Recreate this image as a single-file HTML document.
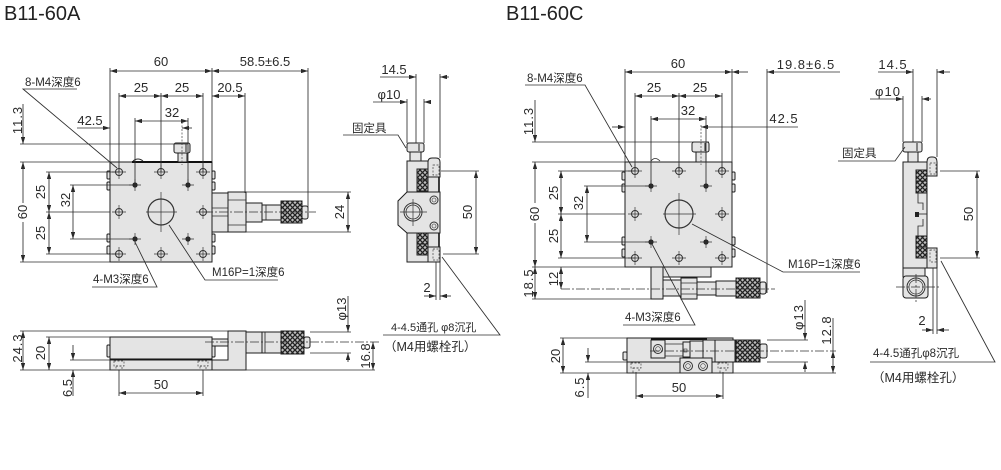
<!DOCTYPE html>
<html><head><meta charset="utf-8"><style>
html,body{margin:0;padding:0;background:#fff;}
svg{display:block;}
.d{stroke:#2e2e2e;stroke-width:.85;fill:none;}
.o{stroke:#1e1e1e;stroke-width:1;fill:#e4e4e4;}
.k{stroke:#222;stroke-width:1;fill:url(#kn);}
.cl{stroke:#333;stroke-width:.75;fill:none;stroke-dasharray:9 2 2 2;}
.dash{stroke:#444;stroke-width:.7;fill:none;stroke-dasharray:2 1.5;}
text{font-family:"Liberation Sans","Noto Sans CJK SC",sans-serif;fill:#2a2a2a;font-size:13px;}
.s{font-size:11.5px;}
.r{letter-spacing:1px;}
.ttl{font-size:20px;fill:#222;}
</style></head><body>
<svg width="1001" height="470" viewBox="0 0 1001 470" xmlns="http://www.w3.org/2000/svg">
<defs>
<marker id="ar" viewBox="0 0 7 4.4" refX="7" refY="2.2" markerWidth="7" markerHeight="4.4" markerUnits="userSpaceOnUse" orient="auto-start-reverse"><path d="M0,0 L7,2.2 L0,4.4z" fill="#2a2a2a"/></marker>
<pattern id="kn" width="5" height="5" patternUnits="userSpaceOnUse"><rect width="5" height="5" fill="#bdbdbd"/><path d="M0,0L5,5M5,0L0,5" stroke="#222" stroke-width="1.3"/></pattern>
<g id="h4"><circle r="3.5" fill="none" stroke="#333" stroke-width="1"/><path d="M-7,0H7M0,-7V7" stroke="#333" stroke-width=".7"/></g>
<g id="h3"><circle r="2.6" fill="#222"/><path d="M-6,0H6M0,-6V6" stroke="#333" stroke-width=".7"/></g>
</defs>

<!-- ================= LEFT: B11-60A ================= -->
<text class="ttl" x="4" y="20">B11-60A</text>

<rect class="o" x="110" y="162" width="102" height="100"/>
<line x1="132" y1="162" x2="212" y2="162" stroke="#111" stroke-width="2"/>
<path d="M133,161 q5,-4 10,0" class="d"/>
<rect class="o" x="107" y="171" width="3" height="8" rx="1"/>
<rect class="o" x="107" y="182" width="3" height="8" rx="1"/>
<rect class="o" x="107" y="234" width="3" height="8" rx="1"/>
<rect class="o" x="107" y="246" width="3" height="8" rx="1"/>
<rect class="o" x="212" y="171" width="3" height="8" rx="1"/>
<rect class="o" x="212" y="182" width="3" height="8" rx="1"/>
<rect class="o" x="212" y="234" width="3" height="8" rx="1"/>
<rect class="o" x="212" y="246" width="3" height="8" rx="1"/>
<use href="#h4" x="119" y="172"/><use href="#h4" x="161" y="172"/><use href="#h4" x="203" y="172"/>
<use href="#h4" x="119" y="212"/><use href="#h4" x="203" y="212"/>
<use href="#h4" x="119" y="254"/><use href="#h4" x="161" y="254"/><use href="#h4" x="203" y="254"/>
<use href="#h3" x="135" y="185"/><use href="#h3" x="188" y="185"/><use href="#h3" x="135" y="239"/><use href="#h3" x="188" y="239"/>
<circle cx="161" cy="212" r="13" fill="none" stroke="#333" stroke-width="1.2"/>
<path d="M146,212H177M161,192V232" stroke="#333" stroke-width=".7"/>
<rect class="o" x="174" y="143" width="16" height="10" rx="2"/>
<rect class="o" x="178" y="153" width="9" height="9"/>
<line x1="186" y1="144" x2="186" y2="152" stroke="#222"/>
<line class="dash" x1="182" y1="122" x2="182" y2="165"/>
<rect class="o" x="212" y="193" width="16" height="39"/>
<path d="M212,208H228M212,216H228" class="d"/>
<rect class="o" x="228" y="192" width="18" height="40"/>
<path d="M228,200H246M228,225H246" class="d"/>
<rect class="o" x="246" y="203" width="16" height="19"/>
<rect class="o" x="262" y="205" width="19" height="15"/>
<line x1="266" y1="205" x2="266" y2="220" class="d"/>
<rect class="k" x="281" y="201" width="21" height="22"/>
<rect class="o" x="302" y="206" width="6" height="13" rx="2"/>
<line class="cl" x1="204" y1="212" x2="316" y2="212"/>

<path class="d" d="M110,68V162M212,68V162M308,68V212M119,93V172M161,93V172M203,93V172M245,93V193M135,118V185M188,118V185"/>
<line class="d" x1="110" y1="71" x2="212" y2="71" marker-start="url(#ar)" marker-end="url(#ar)"/>
<text x="161" y="66" text-anchor="middle">60</text>
<line class="d" x1="212" y1="71" x2="308" y2="71" marker-start="url(#ar)" marker-end="url(#ar)"/>
<text x="265" y="66" text-anchor="middle">58.5±6.5</text>
<line class="d" x1="119" y1="96" x2="161" y2="96" marker-start="url(#ar)" marker-end="url(#ar)"/>
<line class="d" x1="161" y1="96" x2="203" y2="96" marker-start="url(#ar)" marker-end="url(#ar)"/>
<text x="141" y="92" text-anchor="middle">25</text>
<text x="182" y="92" text-anchor="middle">25</text>
<line class="d" x1="212" y1="96" x2="245" y2="96" marker-start="url(#ar)" marker-end="url(#ar)"/>
<text x="230" y="92" text-anchor="middle">20.5</text>
<line class="d" x1="135" y1="121" x2="188" y2="121" marker-start="url(#ar)" marker-end="url(#ar)"/>
<text x="172" y="117" text-anchor="middle">32</text>
<line class="d" x1="77" y1="128" x2="110" y2="128" marker-end="url(#ar)"/>
<line class="d" x1="192" y1="128" x2="182" y2="128" marker-end="url(#ar)"/>
<text x="90" y="125" text-anchor="middle">42.5</text>
<path class="d" d="M20,144H188M20,162H110M20,262H110M46,172H119M46,212H110M46,254H119M70,185H135M70,239H135"/>
<line class="d" x1="23" y1="104" x2="23" y2="144" marker-end="url(#ar)"/>
<line class="d" x1="23" y1="162" x2="23" y2="262" marker-start="url(#ar)" marker-end="url(#ar)"/>
<text transform="translate(22,120) rotate(-90)" text-anchor="middle" class="r">11.3</text>
<rect x="13" y="203" width="14" height="19" fill="#fff"/>
<text transform="translate(27,212) rotate(-90)" text-anchor="middle">60</text>
<line class="d" x1="49" y1="172" x2="49" y2="212" marker-start="url(#ar)" marker-end="url(#ar)"/>
<line class="d" x1="49" y1="212" x2="49" y2="254" marker-start="url(#ar)" marker-end="url(#ar)"/>
<text transform="translate(45,192) rotate(-90)" text-anchor="middle">25</text>
<text transform="translate(45,233) rotate(-90)" text-anchor="middle">25</text>
<line class="d" x1="73" y1="185" x2="73" y2="239" marker-start="url(#ar)" marker-end="url(#ar)"/>
<text transform="translate(70,200) rotate(-90)" text-anchor="middle">32</text>
<path class="d" d="M246,192H351M246,232H351"/>
<line class="d" x1="348" y1="192" x2="348" y2="232" marker-start="url(#ar)" marker-end="url(#ar)"/>
<text transform="translate(344,212) rotate(-90)" text-anchor="middle">24</text>
<text class="s" x="25" y="86">8-M4深度6</text>
<path class="d" d="M77,89H23L117,168"/>
<text class="s" x="93" y="283">4-M3深度6</text>
<path class="d" d="M92,287H157L135,242"/>
<text class="s" x="212" y="276">M16P=1深度6</text>
<path class="d" d="M278,280H205L169,225"/>

<rect class="o" x="407" y="161" width="32" height="101"/>
<line x1="439" y1="161" x2="439" y2="262" stroke="#111" stroke-width="1.6"/>
<rect class="o" x="407" y="143" width="17" height="9" rx="2"/>
<line x1="419" y1="144" x2="419" y2="151" stroke="#222"/>
<rect class="o" x="410" y="152" width="11" height="9"/>
<polygon class="o" points="407,192 440,192 440,233 407,233 398,225 398,201"/>
<circle cx="413" cy="212" r="9" fill="none" stroke="#333" stroke-width="1"/>
<circle cx="413" cy="212" r="7" fill="none" stroke="#333" stroke-width=".8"/>
<path d="M400,212H427M413,199V226" stroke="#333" stroke-width=".7"/>
<circle cx="434" cy="200" r="4" fill="none" stroke="#333"/><circle cx="434" cy="200" r="2" fill="none" stroke="#333" stroke-width=".6"/>
<circle cx="434" cy="226" r="4" fill="none" stroke="#333"/><circle cx="434" cy="226" r="2" fill="none" stroke="#333" stroke-width=".6"/>
<rect class="k" x="417" y="169" width="11" height="11"/><rect class="k" x="417" y="180" width="11" height="11"/>
<rect class="k" x="417" y="233" width="11" height="11"/><rect class="k" x="417" y="244" width="11" height="11"/>
<path class="o" d="M428,177V162Q428,158 432,158H436Q440,158 440,162V177Z"/>
<rect class="dash" x="433" y="165" width="6" height="10"/>
<rect class="o" x="428" y="247" width="12" height="15"/>
<rect class="dash" x="433" y="249" width="6" height="11"/>
<path class="d" d="M416,74V143M440,74V158M407,99V143M424,99V143"/>
<line class="d" x1="380" y1="77" x2="416" y2="77" marker-end="url(#ar)"/>
<line class="d" x1="449" y1="77" x2="440" y2="77" marker-end="url(#ar)"/>
<text x="394" y="74" text-anchor="middle">14.5</text>
<line class="d" x1="373" y1="102" x2="407" y2="102" marker-end="url(#ar)"/>
<line class="d" x1="431" y1="102" x2="424" y2="102" marker-end="url(#ar)"/>
<text x="389" y="99" text-anchor="middle">φ10</text>
<text class="s" x="352" y="132">固定具</text>
<path class="d" d="M343,135H398L406,148"/>
<path class="d" d="M441,171H479M443,254H479"/>
<line class="d" x1="476" y1="171" x2="476" y2="254" marker-start="url(#ar)" marker-end="url(#ar)"/>
<text transform="translate(472,212) rotate(-90)" text-anchor="middle">50</text>
<path class="d" d="M436,262V300M440,262V300"/>
<line class="d" x1="424" y1="296" x2="436" y2="296" marker-end="url(#ar)"/>
<line class="d" x1="451" y1="296" x2="440" y2="296" marker-end="url(#ar)"/>
<text x="427" y="292" text-anchor="middle">2</text>
<text class="s" x="391" y="331" style="font-size:11px">4-4.5通孔 φ8沉孔</text>
<path class="d" d="M383,335H500L442,257"/>
<text x="384" y="351" style="font-size:12.5px">（M4用螺栓孔）</text>

<rect class="o" x="110" y="337" width="102" height="22"/>
<line x1="110" y1="359.5" x2="212" y2="359.5" stroke="#111" stroke-width="2"/>
<rect class="o" x="110" y="360" width="102" height="10"/>
<rect class="dash" x="114" y="361" width="10" height="5"/><rect class="dash" x="116" y="366" width="6" height="4"/>
<rect class="dash" x="198" y="361" width="10" height="5"/><rect class="dash" x="200" y="366" width="6" height="4"/>
<rect class="o" x="107" y="345" width="3" height="12" rx="1"/>
<rect class="o" x="212" y="345" width="3" height="12" rx="1"/>
<path class="o" d="M212,360H228V331H246V370H212Z"/>
<rect class="o" x="212" y="339" width="16" height="7"/>
<rect class="o" x="246" y="332" width="16" height="21"/>
<rect class="o" x="262" y="332" width="19" height="21"/>
<line x1="265" y1="332" x2="265" y2="353" class="d"/>
<rect class="k" x="281" y="331" width="23" height="23"/>
<rect class="o" x="304" y="337" width="6" height="11" rx="2"/>
<line class="cl" x1="205" y1="342" x2="380" y2="342"/>
<path class="d" d="M20,331H228M20,370H375M46,337H110M70,360H110M310,332H351M310,353H351M119,370V396M203,370V396"/>
<line class="d" x1="23" y1="331" x2="23" y2="370" marker-start="url(#ar)" marker-end="url(#ar)"/>
<text transform="translate(22,348) rotate(-90)" text-anchor="middle" class="r">24.3</text>
<line class="d" x1="49" y1="337" x2="49" y2="370" marker-start="url(#ar)" marker-end="url(#ar)"/>
<text transform="translate(45,353) rotate(-90)" text-anchor="middle">20</text>
<line class="d" x1="73" y1="345" x2="73" y2="360" marker-end="url(#ar)"/>
<line class="d" x1="73" y1="396" x2="73" y2="370" marker-end="url(#ar)"/>
<text transform="translate(72,388) rotate(-90)" text-anchor="middle">6.5</text>
<line class="d" x1="119" y1="393" x2="203" y2="393" marker-start="url(#ar)" marker-end="url(#ar)"/>
<text x="161" y="389" text-anchor="middle">50</text>
<line class="d" x1="348" y1="296" x2="348" y2="332" marker-end="url(#ar)"/>
<line class="d" x1="348" y1="362" x2="348" y2="353" marker-end="url(#ar)"/>
<text transform="translate(346,309) rotate(-90)" text-anchor="middle">φ13</text>
<line class="d" x1="373" y1="342" x2="373" y2="370" marker-start="url(#ar)" marker-end="url(#ar)"/>
<text transform="translate(370,356) rotate(-90)" text-anchor="middle">16.8</text>

<!-- ================= RIGHT: B11-60C ================= -->
<text class="ttl" x="506" y="20">B11-60C</text>

<rect class="o" x="625" y="162" width="107" height="105"/>
<path d="M651,161 q4,-5 9,0" class="d"/>
<rect class="o" x="622" y="172" width="3" height="8" rx="1"/>
<rect class="o" x="622" y="184" width="3" height="8" rx="1"/>
<rect class="o" x="622" y="237" width="3" height="8" rx="1"/>
<rect class="o" x="622" y="249" width="3" height="8" rx="1"/>
<rect class="o" x="732" y="172" width="3" height="8" rx="1"/>
<rect class="o" x="732" y="184" width="3" height="8" rx="1"/>
<rect class="o" x="732" y="237" width="3" height="8" rx="1"/>
<rect class="o" x="732" y="249" width="3" height="8" rx="1"/>
<use href="#h4" x="635" y="171"/><use href="#h4" x="679" y="171"/><use href="#h4" x="722" y="171"/>
<use href="#h4" x="635" y="214"/><use href="#h4" x="722" y="214"/>
<use href="#h4" x="635" y="258"/><use href="#h4" x="679" y="258"/><use href="#h4" x="722" y="258"/>
<use href="#h3" x="651" y="186"/><use href="#h3" x="706" y="186"/><use href="#h3" x="651" y="242"/><use href="#h3" x="706" y="242"/>
<circle cx="679" cy="214" r="14" fill="none" stroke="#333" stroke-width="1.2"/>
<path d="M663,214H696M679,193V235" stroke="#333" stroke-width=".7"/>
<rect class="o" x="692" y="142" width="17" height="10" rx="2"/>
<line x1="705" y1="143" x2="705" y2="151" stroke="#222"/>
<rect class="o" x="696" y="152" width="10" height="10"/>
<line class="dash" x1="701" y1="125" x2="701" y2="165"/>
<rect class="o" x="651" y="267" width="12" height="32"/>
<rect class="o" x="663" y="267" width="48" height="10"/>
<rect class="o" x="663" y="280" width="18" height="16"/>
<rect class="o" x="681" y="278" width="16" height="21"/>
<path d="M681,283H697M681,294H697" class="d"/>
<rect class="o" x="697" y="282" width="19" height="13"/>
<rect class="o" x="716" y="281" width="20" height="15"/>
<rect class="k" x="736" y="278" width="24" height="20"/>
<rect class="o" x="760" y="282" width="6" height="12" rx="2"/>
<line class="cl" x1="561" y1="289" x2="775" y2="289"/>
<path class="d" d="M625,69V162M732,69V162M767,69V293M635,93V171M679,93V171M722,93V171M651,116V186M706,116V186"/>
<line class="d" x1="625" y1="72" x2="732" y2="72" marker-start="url(#ar)" marker-end="url(#ar)"/>
<text x="678" y="68" text-anchor="middle">60</text>
<line class="d" x1="840" y1="72" x2="767" y2="72" marker-end="url(#ar)"/>
<line class="d" x1="748" y1="72" x2="732" y2="72" marker-end="url(#ar)"/>
<text x="806" y="69" text-anchor="middle" class="r">19.8±6.5</text>
<line class="d" x1="635" y1="96" x2="679" y2="96" marker-start="url(#ar)" marker-end="url(#ar)"/>
<line class="d" x1="679" y1="96" x2="722" y2="96" marker-start="url(#ar)" marker-end="url(#ar)"/>
<text x="654" y="92" text-anchor="middle">25</text>
<text x="700" y="92" text-anchor="middle">25</text>
<line class="d" x1="651" y1="119" x2="706" y2="119" marker-start="url(#ar)" marker-end="url(#ar)"/>
<text x="688" y="115" text-anchor="middle">32</text>
<line class="d" x1="612" y1="127" x2="625" y2="127" marker-end="url(#ar)"/>
<line class="d" x1="798" y1="127" x2="701" y2="127" marker-end="url(#ar)"/>
<text x="784" y="123" text-anchor="middle" class="r">42.5</text>
<path class="d" d="M532,142H709M532,162H625M532,267H625M532,299H651M558,171H635M558,214H625M558,258H635M584,186H651M584,242H651"/>
<line class="d" x1="535" y1="100" x2="535" y2="142" marker-end="url(#ar)"/>
<line class="d" x1="535" y1="162" x2="535" y2="267" marker-start="url(#ar)" marker-end="url(#ar)"/>
<line class="d" x1="535" y1="267" x2="535" y2="299" marker-start="url(#ar)" marker-end="url(#ar)"/>
<text transform="translate(533,121) rotate(-90)" text-anchor="middle" class="r">11.3</text>
<rect x="525" y="203" width="14" height="20" fill="#fff"/>
<text transform="translate(539,214) rotate(-90)" text-anchor="middle">60</text>
<text transform="translate(533,283) rotate(-90)" text-anchor="middle" class="r">18.5</text>
<line class="d" x1="561" y1="171" x2="561" y2="214" marker-start="url(#ar)" marker-end="url(#ar)"/>
<line class="d" x1="561" y1="214" x2="561" y2="258" marker-start="url(#ar)" marker-end="url(#ar)"/>
<text transform="translate(558,193) rotate(-90)" text-anchor="middle">25</text>
<text transform="translate(558,236) rotate(-90)" text-anchor="middle">25</text>
<line class="d" x1="587" y1="186" x2="587" y2="242" marker-start="url(#ar)" marker-end="url(#ar)"/>
<text transform="translate(583,203) rotate(-90)" text-anchor="middle">32</text>
<line class="d" x1="561" y1="267" x2="561" y2="289" marker-start="url(#ar)" marker-end="url(#ar)"/>
<text transform="translate(558,279) rotate(-90)" text-anchor="middle">12</text>
<text class="s" x="527" y="82">8-M4深度6</text>
<path class="d" d="M525,85H585L632,167"/>
<text class="s" x="788" y="268">M16P=1深度6</text>
<path class="d" d="M860,272H783L692,224"/>
<text class="s" x="625" y="321">4-M3深度6</text>
<path class="d" d="M623,325H695L652,244"/>

<rect class="o" x="903" y="162" width="24" height="106"/>
<rect class="o" x="903" y="142" width="19" height="10" rx="2"/>
<line x1="917" y1="143" x2="917" y2="151" stroke="#222"/>
<rect class="o" x="908" y="152" width="10" height="10"/>
<rect class="k" x="916" y="170" width="11" height="11"/><rect class="k" x="916" y="181" width="11" height="12"/>
<rect class="k" x="916" y="236" width="11" height="11"/><rect class="k" x="916" y="247" width="11" height="11"/>
<path class="d" d="M918,193V203H923V210M923,219V226H918V236"/>
<rect x="915" y="212" width="4" height="5" fill="#222"/>
<path class="d" d="M919,214H927"/>
<path class="o" d="M927,176V162Q927,157 931,157H933Q937,157 937,162V176Z"/>
<rect class="dash" x="930" y="163" width="6" height="11"/>
<rect class="o" x="927" y="248" width="10" height="20"/>
<rect class="dash" x="930" y="250" width="6" height="12"/>
<rect class="o" x="903" y="268" width="22" height="9"/>
<rect class="o" x="903" y="276" width="25" height="22" rx="3"/>
<circle cx="916" cy="287" r="9" fill="#e4e4e4" stroke="#333" stroke-width="1"/>
<circle cx="916" cy="287" r="7" fill="none" stroke="#333" stroke-width=".7"/>
<line class="cl" x1="896" y1="287" x2="941" y2="287"/>
<line class="cl" x1="916" y1="274" x2="916" y2="302"/>
<path class="d" d="M913,69V142M937,69V157M933,268V334M937,268V334M903,96V142M922,96V142M940,171H980M940,258H980"/>
<line class="d" x1="878" y1="72" x2="913" y2="72" marker-end="url(#ar)"/>
<line class="d" x1="950" y1="72" x2="937" y2="72" marker-end="url(#ar)"/>
<text x="893" y="69" text-anchor="middle" class="r">14.5</text>
<line class="d" x1="870" y1="99" x2="903" y2="99" marker-end="url(#ar)"/>
<line class="d" x1="931" y1="99" x2="922" y2="99" marker-end="url(#ar)"/>
<text x="888" y="96" text-anchor="middle" class="r">φ10</text>
<text class="s" x="842" y="157">固定具</text>
<path class="d" d="M838,161H895L905,147"/>
<line class="d" x1="977" y1="171" x2="977" y2="258" marker-start="url(#ar)" marker-end="url(#ar)"/>
<text transform="translate(973,214) rotate(-90)" text-anchor="middle">50</text>
<line class="d" x1="922" y1="330" x2="933" y2="330" marker-end="url(#ar)"/>
<line class="d" x1="949" y1="330" x2="937" y2="330" marker-end="url(#ar)"/>
<text x="922" y="325" text-anchor="middle">2</text>
<text class="s" x="873" y="357" style="font-size:11.5px">4-4.5通孔φ8沉孔</text>
<path class="d" d="M870,362H995L941,261"/>
<text x="872" y="382" style="font-size:12.5px">（M4用螺栓孔）</text>

<rect class="o" x="627" y="338" width="106" height="24"/>
<rect class="o" x="627" y="362" width="106" height="11"/>
<rect class="o" x="623" y="352" width="4" height="8" rx="1"/>
<rect class="o" x="651" y="340" width="14" height="18"/>
<circle cx="658" cy="349" r="4.5" fill="none" stroke="#333"/><circle cx="658" cy="349" r="2.3" fill="none" stroke="#333" stroke-width=".6"/>
<line x1="651" y1="339" x2="707" y2="339" stroke="#111" stroke-width="2"/>
<path class="d" d="M665,344H683M665,356H683"/>
<rect class="o" x="683" y="342" width="7" height="15"/>
<rect x="684" y="349" width="3" height="3" fill="none" stroke="#333" stroke-width=".6"/>
<rect class="o" x="690" y="341" width="13" height="17"/>
<rect class="o" x="703" y="340" width="12" height="22"/>
<rect class="o" x="715" y="340" width="20" height="22"/>
<rect class="o" x="680" y="358" width="32" height="15"/>
<circle cx="688" cy="366" r="4.5" fill="none" stroke="#333"/><circle cx="688" cy="366" r="2.3" fill="none" stroke="#333" stroke-width=".6"/>
<circle cx="703" cy="366" r="4.5" fill="none" stroke="#333"/><circle cx="703" cy="366" r="2.3" fill="none" stroke="#333" stroke-width=".6"/>
<rect class="dash" x="631" y="363" width="10" height="5"/><rect class="dash" x="633" y="368" width="6" height="5"/>
<rect class="dash" x="718" y="363" width="10" height="5"/><rect class="dash" x="720" y="368" width="6" height="5"/>
<rect class="k" x="736" y="340" width="24" height="22"/>
<rect class="o" x="760" y="344" width="7" height="14" rx="2"/>
<line class="cl" x1="650" y1="351" x2="836" y2="351"/>
<path class="d" d="M560,338H627M560,373H836M585,362H627M767,340H808M767,362H808M636,372V399M723,372V399"/>
<line class="d" x1="563" y1="338" x2="563" y2="373" marker-start="url(#ar)" marker-end="url(#ar)"/>
<text transform="translate(560,356) rotate(-90)" text-anchor="middle">20</text>
<line class="d" x1="588" y1="348" x2="588" y2="362" marker-end="url(#ar)"/>
<line class="d" x1="588" y1="398" x2="588" y2="373" marker-end="url(#ar)"/>
<text transform="translate(584,387) rotate(-90)" text-anchor="middle" class="r">6.5</text>
<line class="d" x1="636" y1="396" x2="723" y2="396" marker-start="url(#ar)" marker-end="url(#ar)"/>
<text x="679" y="392" text-anchor="middle">50</text>
<line class="d" x1="805" y1="300" x2="805" y2="340" marker-end="url(#ar)"/>
<line class="d" x1="805" y1="372" x2="805" y2="362" marker-end="url(#ar)"/>
<text transform="translate(803,317) rotate(-90)" text-anchor="middle" class="r">φ13</text>
<line class="d" x1="833" y1="318" x2="833" y2="351" />
<line class="d" x1="833" y1="351" x2="833" y2="373" marker-start="url(#ar)" marker-end="url(#ar)"/>
<text transform="translate(831,330) rotate(-90)" text-anchor="middle" class="r">12.8</text>
</svg>
</body></html>
